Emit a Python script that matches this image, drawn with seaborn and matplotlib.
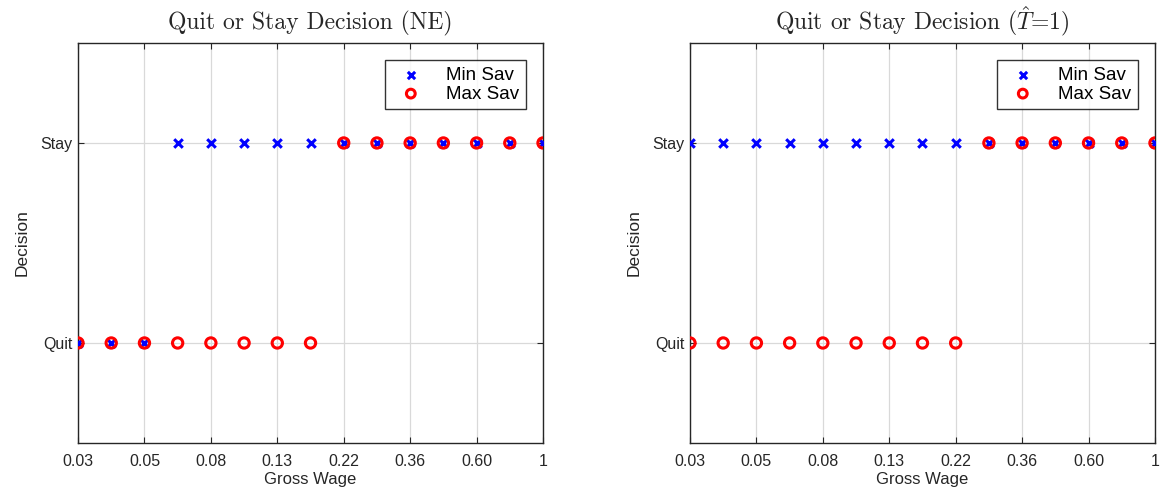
import numpy as np
import pandas as pd
import matplotlib
matplotlib.use("Agg")
import matplotlib.pyplot as plt
import seaborn as sns

# ---- data ----
wage = [0.03, 0.04, 0.05, 0.06, 0.08, 0.10, 0.13, 0.17, 0.22, 0.28, 0.36, 0.47, 0.60, 0.78, 1.0]
tick_labels = ["0.03", "0.05", "0.08", "0.13", "0.22", "0.36", "0.60", "1"]
decision_labels = ["Quit", "Stay"]
ne_min_sav = [0, 0, 0, 1, 1, 1, 1, 1, 1, 1, 1, 1, 1, 1, 1]
ne_max_sav = [0, 0, 0, 0, 0, 0, 0, 0, 1, 1, 1, 1, 1, 1, 1]
t1_min_sav = [1, 1, 1, 1, 1, 1, 1, 1, 1, 1, 1, 1, 1, 1, 1]
t1_max_sav = [0, 0, 0, 0, 0, 0, 0, 0, 0, 1, 1, 1, 1, 1, 1]
titles = ["Quit or Stay Decision (NE)",
          r"Quit or Stay Decision ($\hat{T}$=1)"]

sns.set_style("white")
plt.rcParams["font.family"] = ["Liberation Sans", "DejaVu Sans"]
plt.rcParams["mathtext.fontset"] = "cm"
plt.rcParams["axes.unicode_minus"] = False

fig = plt.figure(figsize=(11.61, 4.91), dpi=100)
axes = [fig.add_axes([0.0672, 0.0978, 0.4005, 0.8147]),
        fig.add_axes([0.5943, 0.0978, 0.4005, 0.8147])]

pos = np.arange(len(wage))
panels = [(ne_min_sav, ne_max_sav), (t1_min_sav, t1_max_sav)]

for ax, (mn, mx), title in zip(axes, panels, titles):
    df = pd.DataFrame({"pos": pos, "wage": wage, "min": mn, "max": mx})
    ax.grid(True, color="#d9d9d9", linewidth=0.9)
    ax.set_axisbelow(True)
    sns.scatterplot(data=df, x="pos", y="min", ax=ax, marker="x", s=38,
                    color="blue", linewidth=2.2, label="Min Sav", zorder=3)
    sns.scatterplot(data=df, x="pos", y="max", ax=ax, marker="o", s=55,
                    facecolor="none", edgecolor="red", linewidth=2.2,
                    label="Max Sav", zorder=4)
    ax.set_xlim(0, len(wage) - 1)
    ax.set_ylim(-0.5, 1.5)
    ax.set_xticks(pos[::2])
    ax.set_xticklabels(tick_labels)
    ax.set_yticks([0, 1])
    ax.set_yticklabels(decision_labels)
    ax.tick_params(direction="in", length=4, width=0.8, colors="#262626",
                   labelsize=11.5, top=True, right=True, bottom=True, left=True,
                   pad=4)
    ax.tick_params(axis="x", pad=8)
    for sp in ax.spines.values():
        sp.set_color("#262626")
        sp.set_linewidth(1.0)
    ax.set_xlabel("Gross Wage", fontsize=12, color="#262626", labelpad=2)
    ax.set_ylabel("Decision", fontsize=12.5, color="#262626", labelpad=8)
    ax.set_title(title, fontsize=17, color="#262626", pad=10,
                 fontfamily="cmr10")
    leg = ax.legend(loc="upper right", fontsize=13.5, frameon=True, fancybox=False,
                    edgecolor="black", borderpad=0.35, handletextpad=0.9,
                    labelspacing=0.1, borderaxespad=0.9, markerscale=0.85)
    leg.get_frame().set_linewidth(1.0)
    for t in leg.get_texts():
        t.set_color("black")

fig.savefig("out.png", dpi=100)
